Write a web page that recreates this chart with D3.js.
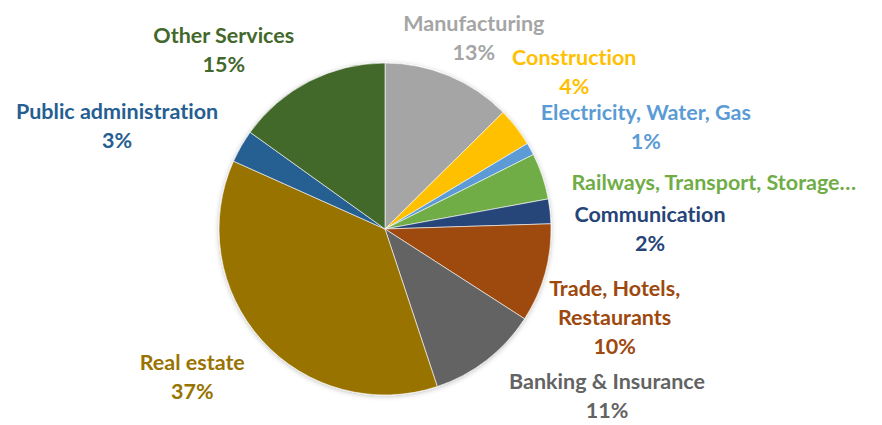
<!DOCTYPE html>
<html>
<head>
<meta charset="utf-8">
<script src="https://cdn.jsdelivr.net/npm/d3@7"></script>
<style>
  html, body { margin: 0; padding: 0; background: #fff; }
  svg { display: block; }
  text.label { font-variant-ligatures: none; font-feature-settings: "liga" 0, "dlig" 0; }
</style>
</head>
<body>
<div id="chart"></div>
<script>
	// sector shares of the total, clockwise from 12 o'clock
	var sectors = ["Manufacturing", "Construction", "Electricity, Water, Gas",
		"Railways, Transport, Storage\u2026", "Communication", "Trade, Hotels, Restaurants",
		"Banking & Insurance", "Real estate", "Public administration", "Other Services"];
	var shares = [12.6, 3.8, 1.2, 4.5, 2.4, 9.6, 10.8, 36.8, 3.2, 15.1];
	var colors = ["#a5a5a5", "#ffc000", "#5b9bd5", "#70ad47", "#264478",
		"#9e480e", "#636363", "#997300", "#255e91", "#43682b"];

	// label text lines (name split as in the original) and whether the % is shown
	var labelLines = [["Manufacturing"], ["Construction"], ["Electricity, Water, Gas"],
		["Railways, Transport, Storage\u2026"], ["Communication"], ["Trade, Hotels,", "Restaurants"],
		["Banking & Insurance"], ["Real estate"], ["Public administration"], ["Other Services"]];
	var showPct = [true, true, true, false, true, true, true, true, true, true];
	// label anchor, polar from pie centre: [angle in degrees clockwise from top, distance]
	var labelPolar = [[24.9, 211], [50.3, 246], [68.7, 280], [82, 332], [90, 265],
		[111, 246], [127, 278], [232.5, 243], [291, 287], [318, 241]];

	var width = 882,
		height = 425,
		cx = 385,
		cy = 229,
		radius = 166,
		fontSize = 21.5,
		lineHeight = 29;

	var svg = d3.select("#chart").append("svg")
		.attr("width", width)
		.attr("height", height);

	var defs = svg.append("defs");
	var shadow = defs.append("filter").attr("id", "shadow")
		.attr("x", "-10%").attr("y", "-10%").attr("width", "120%").attr("height", "120%");
	shadow.append("feDropShadow")
		.attr("dx", 0).attr("dy", 1)
		.attr("stdDeviation", 2.5)
		.attr("flood-color", "#000")
		.attr("flood-opacity", 0.25);

	var data = sectors.map(function(name, i) {
		return {name: name, value: shares[i], color: colors[i], lines: labelLines[i],
			pct: showPct[i], pos: labelPolar[i]};
	});

	var pie = d3.pie()
		.sort(null)
		.value(function(d) { return d.value; });

	var arc = d3.arc()
		.innerRadius(0)
		.outerRadius(radius);

	var g = svg.append("g")
		.attr("transform", "translate(" + cx + "," + cy + ")");

	g.append("g")
		.attr("filter", "url(#shadow)")
		.selectAll("path")
		.data(pie(data))
		.enter().append("path")
		.attr("d", arc)
		.attr("fill", function(d) { return d.data.color; })
		.attr("stroke", "#fff")
		.attr("stroke-width", 0.6);

	var total = d3.sum(shares);

	var labels = g.selectAll("text.label")
		.data(pie(data))
		.enter().append("text")
		.attr("class", "label")
		.attr("text-anchor", "middle")
		.attr("font-family", "Lato, 'Open Sans', sans-serif")
		.attr("font-weight", "bold")
		.attr("font-size", fontSize)
		.attr("fill", function(d) { return d.data.color; })
		.each(function(d) {
			var t = d3.select(this),
				a = d.data.pos[0] * Math.PI / 180,
				x = Math.sin(a) * d.data.pos[1],
				y = -Math.cos(a) * d.data.pos[1],
				lines = d.data.lines.slice();
			if (d.data.pct) lines.push(Math.round(d.data.value / total * 100) + "%");
			var top = y - (lines.length - 1) * lineHeight / 2;
			lines.forEach(function(s, k) {
				t.append("tspan")
					.attr("x", x)
					.attr("y", top + k * lineHeight)
					.attr("dy", "0.35em")
					.text(s);
			});
		});
</script>
</body>
</html>
